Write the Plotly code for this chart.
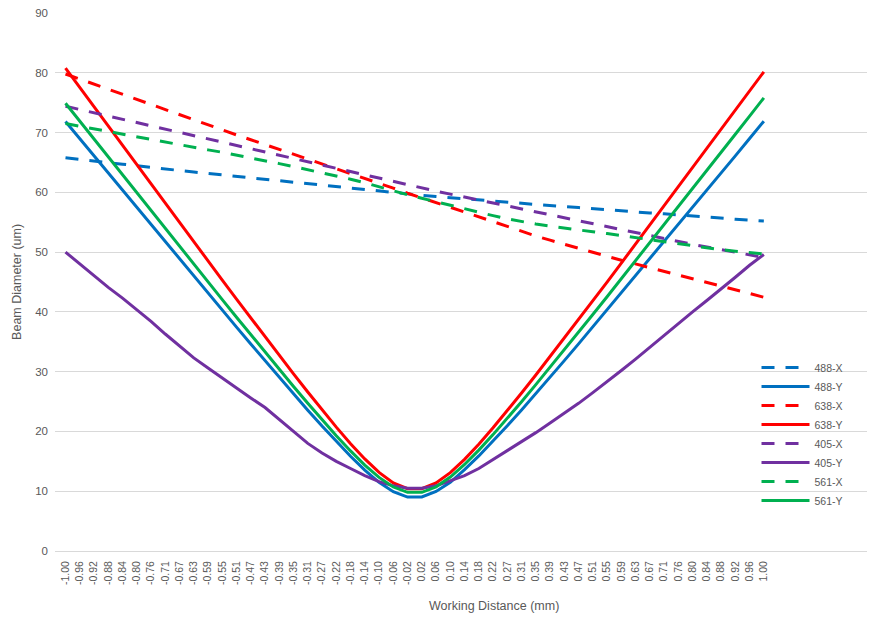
import plotly.graph_objects as go

categories = ["-1.00","-0.96","-0.92","-0.88","-0.84","-0.80","-0.76","-0.71","-0.67","-0.63",
              "-0.59","-0.55","-0.51","-0.47","-0.43","-0.39","-0.35","-0.31","-0.27","-0.22",
              "-0.18","-0.14","-0.10","-0.06","-0.02","0.02","0.06","0.10","0.14","0.18",
              "0.22","0.27","0.31","0.35","0.39","0.43","0.47","0.51","0.55","0.59",
              "0.63","0.67","0.71","0.76","0.80","0.84","0.88","0.92","0.96","1.00"]

s488_x = [65.8, 65.5, 65.25, 64.95, 64.7, 64.45, 64.15, 63.9, 63.65, 63.4,
          63.15, 62.9, 62.65, 62.4, 62.15, 61.9, 61.65, 61.4, 61.2, 60.95,
          60.7, 60.45, 60.2, 59.95, 59.7, 59.5, 59.3, 59.1, 58.9, 58.7,
          58.5, 58.3, 58.1, 57.95, 57.8, 57.6, 57.45, 57.25, 57.1, 56.9,
          56.75, 56.55, 56.4, 56.2, 56.05, 55.85, 55.7, 55.5, 55.35, 55.2]

s488_y = [71.85, 68.97, 66.08, 63.20, 60.32, 57.44, 54.57, 51.70, 48.84, 45.98,
          43.13, 40.29, 37.45, 34.63, 31.83, 29.05, 26.28, 23.56, 20.91, 18.32,
          15.84, 13.53, 11.49, 9.91, 9.02, 9.05, 9.95, 11.5, 13.6, 15.9,
          18.4, 20.95, 23.6, 26.3, 29.1, 31.85, 34.65, 37.5, 40.3, 43.15,
          46.0, 48.85, 51.7, 54.6, 57.45, 60.35, 63.2, 66.1, 69.0, 71.9]

s638_x = [79.8, 78.95, 78.1, 77.2, 76.35, 75.5, 74.6, 73.8, 72.95, 72.1,
          71.3, 70.45, 69.6, 68.8, 68.0, 67.2, 66.35, 65.55, 64.7, 63.9,
          63.1, 62.3, 61.5, 60.7, 59.85, 59.1, 58.3, 57.5, 56.7, 55.9,
          55.0, 54.2, 53.45, 52.7, 52.0, 51.3, 50.6, 49.95, 49.3, 48.65,
          48.0, 47.35, 46.75, 46.15, 45.55, 44.95, 44.35, 43.75, 43.1, 42.45]

s638_y = [80.76, 77.52, 74.28, 71.05, 67.81, 64.58, 61.35, 58.14, 54.93, 51.71,
          48.51, 45.32, 42.14, 38.98, 35.85, 32.72, 29.63, 26.59, 23.62, 20.72,
          17.95, 15.40, 13.15, 11.40, 10.43, 10.43, 11.39, 13.11, 15.33, 17.87,
          20.61, 23.47, 26.42, 29.44, 32.51, 35.59, 38.72, 41.85, 44.99, 48.16,
          51.34, 54.52, 57.72, 60.91, 64.10, 67.31, 70.53, 73.73, 76.95, 80.16]

s405_x = [74.4, 73.85, 73.3, 72.75, 72.2, 71.65, 71.1, 70.55, 70.0, 69.45,
          68.9, 68.35, 67.8, 67.25, 66.7, 66.15, 65.6, 65.05, 64.5, 63.95,
          63.4, 62.85, 62.3, 61.75, 61.2, 60.7, 60.2, 59.7, 59.2, 58.7,
          58.2, 57.7, 57.2, 56.7, 56.2, 55.7, 55.2, 54.7, 54.2, 53.7,
          53.2, 52.75, 52.25, 51.8, 51.3, 50.85, 50.4, 49.95, 49.5, 49.1]

s405_y = [50.0, 48.0, 46.0, 44.1, 42.3, 40.4, 38.4, 36.3, 34.3, 32.3,
          30.6, 28.9, 27.2, 25.6, 24.0, 22.0, 20.0, 18.0, 16.4, 15.0,
          13.8, 12.6, 11.6, 10.9, 10.5, 10.5, 10.9, 11.7, 12.6, 13.8,
          15.3, 16.8, 18.2, 19.8, 21.4, 23.0, 24.7, 26.5, 28.3, 30.2,
          32.1, 34.1, 36.1, 38.0, 40.0, 41.9, 43.8, 45.8, 47.8, 49.6]

s561_x = [71.5, 71.05, 70.6, 70.2, 69.75, 69.3, 68.85, 68.4, 68.0, 67.55,
          67.1, 66.7, 66.25, 65.75, 65.3, 64.8, 64.3, 63.8, 63.3, 62.75,
          62.2, 61.6, 60.9, 60.25, 59.6, 59.0, 58.4, 57.8, 57.2, 56.65,
          56.1, 55.55, 55.1, 54.7, 54.35, 54.0, 53.7, 53.4, 53.1, 52.75,
          52.4, 52.05, 51.7, 51.35, 51.0, 50.7, 50.4, 50.15, 49.9, 49.7]

s561_y = [74.90, 71.90, 68.90, 65.90, 62.89, 59.90, 56.91, 53.93, 50.95, 47.98,
          45.01, 42.05, 39.11, 36.18, 33.27, 30.39, 27.53, 24.71, 21.96, 19.29,
          16.74, 14.38, 12.31, 10.71, 9.82, 9.82, 10.74, 12.37, 14.47, 16.88,
          19.47, 22.18, 24.97, 27.83, 30.72, 33.65, 36.60, 39.57, 42.54, 45.54,
          48.55, 51.55, 54.57, 57.59, 60.62, 63.65, 66.69, 69.72, 72.76, 75.80]

series_names = ["488-X", "488-Y", "638-X", "638-Y", "405-X", "405-Y", "561-X", "561-Y"]
series_values = [s488_x, s488_y, s638_x, s638_y, s405_x, s405_y, s561_x, s561_y]
series_colors = ["#0070C0", "#0070C0", "#FF0000", "#FF0000", "#7030A0", "#7030A0", "#00B050", "#00B050"]
series_dash = ["13px,11px", "solid", "13px,11px", "solid", "13px,11px", "solid", "13px,11px", "solid"]

GREY = "#595959"
FONT = "Liberation Sans, Arial, sans-serif"

fig = go.Figure()
for name, vals, col, dash in zip(series_names, series_values, series_colors, series_dash):
    fig.add_trace(go.Scatter(
        x=categories, y=vals, name=name, mode="lines",
        line=dict(color=col, width=3, dash=dash),
    ))

fig.update_layout(
    width=867, height=610,
    margin=dict(l=47, r=0, t=5, b=66.5, pad=0),
    paper_bgcolor="white", plot_bgcolor="white",
    font=dict(family=FONT, color=GREY),
    showlegend=True,
    legend=dict(
        x=0.8555, y=0.368, xanchor="left", yanchor="top",
        bgcolor="rgba(255,255,255,0)",
        font=dict(size=10.5, color=GREY, family=FONT),
        itemwidth=48, traceorder="normal",
    ),
    xaxis=dict(
        type="category", range=[-0.737, 56.8],
        showgrid=False, zeroline=False, showline=False,
        tickangle=-90, dtick=1, ticks="",
        tickfont=dict(size=10.5, color=GREY, family=FONT),
        ticklabelstandoff=7,
    ),
    yaxis=dict(
        range=[0, 90], dtick=10, tick0=0,
        showgrid=True, gridcolor="#D9D9D9", gridwidth=1,
        zeroline=True, zerolinecolor="#D9D9D9", zerolinewidth=1,
        showline=False, ticks="",
        tickfont=dict(size=11.5, color=GREY, family=FONT),
        ticklabelstandoff=6, ticklabeloverflow="allow",
    ),
    annotations=[
        dict(text="Working Distance (mm)", xref="paper", yref="paper",
             x=0.5357, y=-0.1025, xanchor="center", yanchor="middle",
             showarrow=False, font=dict(size=12.5, color=GREY, family=FONT)),
        dict(text="Beam Diameter (um)", xref="paper", yref="paper",
             x=-0.0456, y=0.4995, xanchor="center", yanchor="middle",
             textangle=-90, showarrow=False, font=dict(size=12.5, color=GREY, family=FONT)),
    ],
)

fig.write_html("out.html")
